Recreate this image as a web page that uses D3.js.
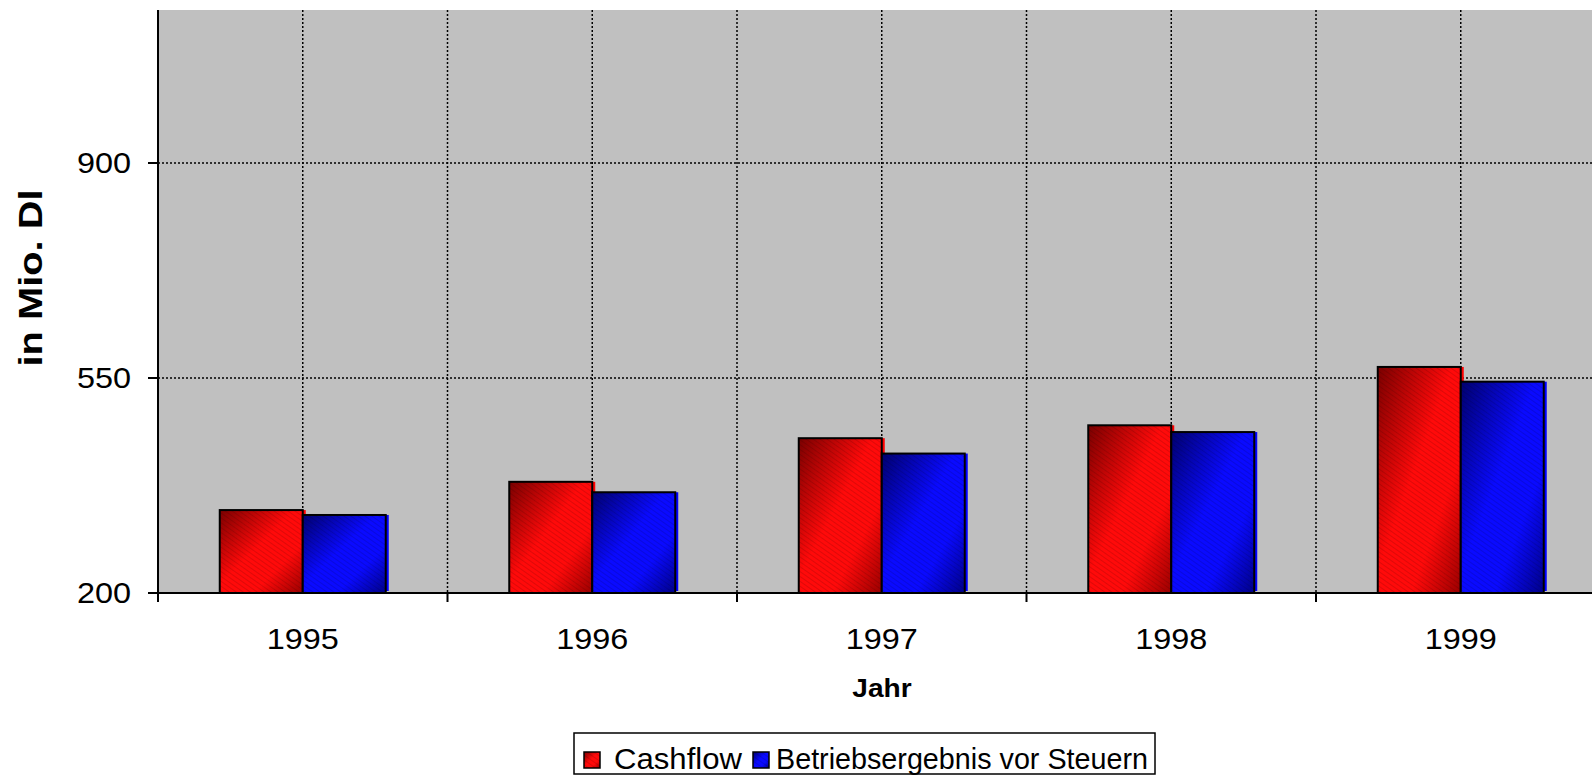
<!DOCTYPE html>
<html>
<head>
<meta charset="utf-8">
<script src="https://cdn.jsdelivr.net/npm/d3@7"></script>
<style>
  body { margin: 0; background: #fff; }
  svg { display: block; font-family: "Liberation Sans", Arial, sans-serif; }
</style>
</head>
<body>
<svg id="chart" width="1592" height="776"></svg>
<script>
// data
var years = ["1995", "1996", "1997", "1998", "1999"];
var cashflow = [335, 381, 452, 473, 568];
var betriebsergebnis = [327, 364, 427, 462, 544];
var seriesNames = ["Cashflow", "Betriebsergebnis vor Steuern"];
var yTicks = [200, 550, 900, 1250];

var svg = d3.select("#chart");
var W = 1592, H = 776;
var plotLeft = 158, plotTop = 10, base = 593;

// y: 200 at the axis, 900 at 163 (the top of the plot is cut off)
var y = d3.scaleLinear().domain([200, 900]).range([base, 163]);
var x0 = d3.scaleBand().domain(years).range([plotLeft, plotLeft + 5 * 289.5]).paddingInner(0).paddingOuter(0);
var groupW = 166;
var x1 = d3.scaleBand().domain(seriesNames).range([0, groupW]).padding(0);

var defs = svg.append("defs");
function grad(id, dark, mid, end) {
  var g = defs.append("linearGradient").attr("id", id)
    .attr("x1", 0).attr("y1", 0).attr("x2", 1).attr("y2", 1);
  g.append("stop").attr("offset", "0%").attr("stop-color", dark);
  g.append("stop").attr("offset", "45%").attr("stop-color", mid);
  g.append("stop").attr("offset", "70%").attr("stop-color", mid);
  g.append("stop").attr("offset", "100%").attr("stop-color", end);
}
grad("gRed", "#7a0000", "#ff0a0a", "#9a0000");
grad("gBlue", "#00006e", "#0a0aff", "#000088");
var pat = defs.append("pattern").attr("id", "hatch")
  .attr("patternUnits", "userSpaceOnUse").attr("width", 4).attr("height", 4)
  .attr("patternTransform", "rotate(-55)");
pat.append("line").attr("x1", 0).attr("y1", 0).attr("x2", 0).attr("y2", 4)
  .attr("stroke", "rgba(0,0,0,0.2)").attr("stroke-width", 1.3);

var fills = { "Cashflow": ["url(#gRed)", "#ff0000"], "Betriebsergebnis vor Steuern": ["url(#gBlue)", "#0000ff"] };

// plot background
svg.append("rect").attr("x", plotLeft).attr("y", plotTop).attr("width", W - plotLeft).attr("height", base - plotTop)
  .attr("fill", "#c0c0c0");

// gridlines
var grid = svg.append("g").attr("stroke", "#000").attr("stroke-width", 1.5).attr("stroke-dasharray", "2,2");
yTicks.filter(function(d) { return d > 200 && y(d) > plotTop; }).forEach(function(d) {
  grid.append("line").attr("x1", plotLeft).attr("x2", W).attr("y1", y(d)).attr("y2", y(d));
});
years.forEach(function(d, i) {
  var xs = [x0(d) + x0.bandwidth() / 2];
  if (i > 0) xs.push(x0(d));
  xs.forEach(function(xx) {
    grid.append("line").attr("x1", xx).attr("x2", xx).attr("y1", plotTop).attr("y2", base);
  });
});

// bars
var rows = years.map(function(d, i) {
  return { year: d, vals: [{ s: seriesNames[0], v: cashflow[i] }, { s: seriesNames[1], v: betriebsergebnis[i] }] };
});
var grp = svg.append("g").selectAll("g").data(rows).enter().append("g")
  .attr("transform", function(d) { return "translate(" + (x0(d.year) + (x0.bandwidth() - groupW) / 2) + ",0)"; });
// flat shadow to the right
grp.selectAll("rect.sh").data(function(d) { return d.vals; }).enter().append("rect").attr("class", "sh")
  .attr("x", function(d) { return x1(d.s) + 3; })
  .attr("y", function(d) { return y(d.v); })
  .attr("width", x1.bandwidth())
  .attr("height", function(d) { return base - y(d.v) - 2; })
  .attr("fill", function(d) { return fills[d.s][1]; });
var bar = grp.selectAll("g.bar").data(function(d) { return d.vals; }).enter().append("g").attr("class", "bar");
bar.append("rect")
  .attr("x", function(d) { return x1(d.s); })
  .attr("y", function(d) { return y(d.v); })
  .attr("width", x1.bandwidth())
  .attr("height", function(d) { return base - y(d.v); })
  .attr("fill", function(d) { return fills[d.s][0]; });
bar.append("rect")
  .attr("x", function(d) { return x1(d.s); })
  .attr("y", function(d) { return y(d.v); })
  .attr("width", x1.bandwidth())
  .attr("height", function(d) { return base - y(d.v); })
  .attr("fill", "url(#hatch)")
  .attr("stroke", "#000").attr("stroke-width", 2);

// axes
var axes = svg.append("g").attr("stroke", "#000").attr("stroke-width", 2);
axes.append("line").attr("x1", plotLeft).attr("x2", plotLeft).attr("y1", plotTop).attr("y2", base + 9);
axes.append("line").attr("x1", plotLeft).attr("x2", W).attr("y1", base).attr("y2", base);
yTicks.filter(function(d) { return y(d) > plotTop; }).forEach(function(d) {
  axes.append("line").attr("x1", plotLeft - 10).attr("x2", plotLeft).attr("y1", y(d)).attr("y2", y(d));
});
years.forEach(function(d) {
  axes.append("line").attr("x1", x0(d)).attr("x2", x0(d)).attr("y1", base).attr("y2", base + 9);
});

var sx = 1.08;
function txt(xx, yy, s, size, anchor, weight) {
  return svg.append("text")
    .attr("transform", "translate(" + xx + "," + yy + ") scale(" + sx + ",1)")
    .attr("text-anchor", anchor).attr("font-size", size)
    .attr("font-weight", weight || "normal").attr("fill", "#000").text(s);
}
yTicks.filter(function(d) { return y(d) > plotTop; }).forEach(function(d) {
  txt(131, y(d) + 10, d, 30, "end");
});
years.forEach(function(d) {
  txt(x0(d) + x0.bandwidth() / 2, 649, d, 30, "middle");
});
txt(882, 697, "Jahr", 26, "middle", "bold");
svg.append("text")
  .attr("transform", "translate(42,278) rotate(-90)")
  .attr("text-anchor", "middle").attr("font-size", 34).attr("font-weight", "bold")
  .attr("textLength", 177).attr("lengthAdjust", "spacingAndGlyphs")
  .text("in Mio. Dl");

// legend
var lg = svg.append("g");
lg.append("rect").attr("x", 574).attr("y", 733).attr("width", 581).attr("height", 41)
  .attr("fill", "#fff").attr("stroke", "#000").attr("stroke-width", 1.5);
var legendX = [[584, 614, 128], [753, 776, 372]];
seriesNames.forEach(function(s, i) {
  lg.append("rect").attr("x", legendX[i][0]).attr("y", 752).attr("width", 16).attr("height", 16)
    .attr("fill", fills[s][0]).attr("stroke", "#000").attr("stroke-width", 1.5);
  lg.append("rect").attr("x", legendX[i][0]).attr("y", 752).attr("width", 16).attr("height", 16)
    .attr("fill", "url(#hatch)");
  lg.append("text").attr("x", legendX[i][1]).attr("y", 769).attr("font-size", 30)
    .attr("textLength", legendX[i][2]).attr("lengthAdjust", "spacingAndGlyphs").text(s);
});
</script>
</body>
</html>
